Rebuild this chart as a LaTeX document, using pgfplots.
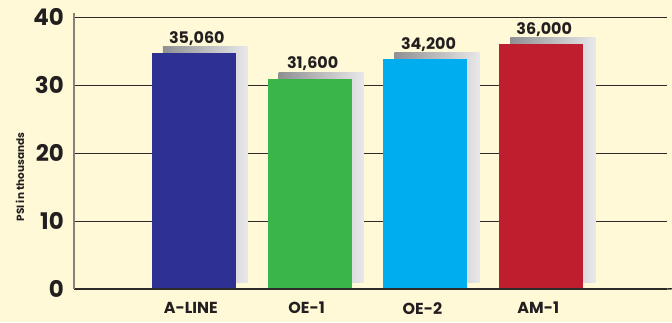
\documentclass[border=0pt]{standalone}
\usepackage{pgfplots}
\pgfplotsset{compat=1.18}
\usepackage{fontspec}
\setmainfont{Poppins}
\definecolor{bg}{HTML}{FFF9D8}
\definecolor{ink}{HTML}{231F20}
\definecolor{gridc}{HTML}{2E2B28}
\definecolor{cA}{HTML}{2E3192}
\definecolor{cB}{HTML}{39B54A}
\definecolor{cC}{HTML}{00AEEF}
\definecolor{cD}{HTML}{BE1E2D}
\definecolor{shL}{HTML}{8F9093}
\definecolor{shR}{HTML}{E8E8EA}
\pgfplotstableread{
x y label
0 34.7 35,060
}\barA
\pgfplotstableread{
x y label
1 30.9 31,600
}\barB
\pgfplotstableread{
x y label
2 33.8 34,200
}\barC
\pgfplotstableread{
x y label
3 36.0 36,000
}\barD
\begin{document}
\begin{tikzpicture}[x=1bp,y=1bp]
\fill[bg] (0,0) rectangle (672,322);
\useasboundingbox (0,0) rectangle (672,322);
\pgfplotsset{common/.style={at={(74bp,33bp)}, anchor=south west, scale only axis,
  width=593bp, height=272bp, xmin=-1.035, xmax=4.086}}
% grid and tick labels
\begin{axis}[common, ymin=0, ymax=40,
  ytick={0,10,20,30,40}, xtick={0,1,2,3}, xticklabels={A-LINE,OE-1,OE-2,AM-1},
  ymajorgrids, grid style={draw=gridc, line width=1bp},
  axis line style={draw=none}, major tick length=0pt,
  /pgf/number format/assume math mode=true,
  yticklabel style={font=\fontsize{23}{23}\selectfont\bfseries, text=ink, inner sep=0pt, xshift=-10bp},
  xticklabel style={font=\fontsize{16}{16}\selectfont\bfseries, text=ink, inner sep=0pt, yshift=-13bp, xshift=-3bp, anchor=north},
]
\end{axis}
% shadows
\begin{axis}[common, ymin=-1, ymax=39, hide axis]
\pgfplotsset{shadow/.style={ybar, bar width=85bp, bar shift=11.5bp, draw=none, left color=shL, right color=shR}}
\addplot[shadow] table[x=x, y=y] {\barA};
\addplot[shadow] table[x=x, y=y] {\barB};
\addplot[shadow] table[x=x, y=y] {\barC};
\addplot[shadow] table[x=x, y=y] {\barD};
\end{axis}
% bars
\begin{axis}[common, ymin=0, ymax=40, xtick=\empty, ytick=\empty,
  axis x line*=bottom, axis y line*=left, axis on top, clip=false,
  x axis line style={draw=gridc, line width=1.4bp, -},
  y axis line style={draw=gray!85!brown, line width=1.3bp, -, shorten >=-4bp},
  nodes near coords, point meta=explicit symbolic,
  every node near coord/.append style={font=\fontsize{16}{16}\selectfont\bfseries, text=ink, anchor=base, yshift=10bp, xshift=3bp},
]
\pgfplotsset{mainbar/.style={ybar, bar width=84bp, bar shift=0pt, draw=none}}
\addplot[mainbar, fill=cA] table[x=x, y=y, meta=label] {\barA};
\addplot[mainbar, fill=cB] table[x=x, y=y, meta=label] {\barB};
\addplot[mainbar, fill=cC] table[x=x, y=y, meta=label] {\barC};
\addplot[mainbar, fill=cD] table[x=x, y=y, meta=label] {\barD};
\draw[gridc, line width=1.4bp] (rel axis cs:1,0) -- ++(0,6bp);
\end{axis}
\node[rotate=90, font=\fontsize{10.5}{10.5}\selectfont\bfseries, text=ink, inner sep=0pt] at (20,145) {PSI in thousands};
\end{tikzpicture}
\end{document}
